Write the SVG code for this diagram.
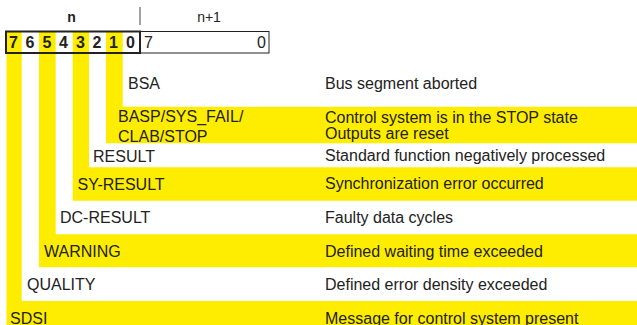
<svg xmlns="http://www.w3.org/2000/svg" width="637" height="325" viewBox="0 0 637 325">
<style>
.y{fill:#FFED00}
.t{font-family:"Liberation Sans",Arial,sans-serif;font-size:16px;fill:#222}
.d{font-family:"Liberation Sans",Arial,sans-serif;font-size:16px;font-weight:bold;fill:#222;text-anchor:middle}
.h{font-family:"Liberation Sans",Arial,sans-serif;font-size:14px;fill:#222;text-anchor:middle}
</style>
<rect width="637" height="325" fill="#fff"/>
<g id="bit7-SDSI">
<path class="y" d="M6.5,31 H21.7 V301 H637 V325 H6.5 Z"/>
<text class="t" x="10" y="323.5">SDSI</text>
<text class="t" x="325" y="323.5">Message for control system present</text>
</g>
<g id="bit6-QUALITY">
<text class="t" x="27" y="290">QUALITY</text>
<text class="t" x="325" y="290">Defined error density exceeded</text>
</g>
<g id="bit5-WARNING">
<path class="y" d="M39,31 H55.7 V234.3 H637 V267.3 H39 Z"/>
<text class="t" x="44" y="256.5">WARNING</text>
<text class="t" x="325" y="256.5">Defined waiting time exceeded</text>
</g>
<g id="bit4-DC-RESULT">
<text class="t" x="60" y="223">DC-RESULT</text>
<text class="t" x="325" y="223">Faulty data cycles</text>
</g>
<g id="bit3-SY-RESULT">
<path class="y" d="M72.7,31 H89 V167.3 H637 V200.7 H72.7 Z"/>
<text class="t" x="77.5" y="189.5">SY-RESULT</text>
<text class="t" x="325" y="189">Synchronization error occurred</text>
</g>
<g id="bit2-RESULT">
<text class="t" x="93" y="162">RESULT</text>
<text class="t" x="325" y="160.5">Standard function negatively processed</text>
</g>
<g id="bit1-BASP">
<path class="y" d="M106,31 H122.7 V106.7 H637 V143.3 H106 Z"/>
<text class="t" x="118" y="121.5">BASP/SYS_FAIL/</text>
<text class="t" x="118" y="141.5">CLAB/STOP</text>
<text class="t" x="325" y="122.5">Control system is in the STOP state</text>
<text class="t" x="325" y="138.5">Outputs are reset</text>
</g>
<g id="bit0-BSA">
<text class="t" x="128" y="89">BSA</text>
<text class="t" x="325" y="89">Bus segment aborted</text>
</g>
<g id="byte-n">
<text class="h" x="71.5" y="21.5" font-weight="bold">n</text>
<line x1="140" y1="7" x2="140" y2="25" stroke="#444" stroke-width="1"/>
<text class="d" x="13.5" y="48">7</text>
<text class="d" x="30" y="48">6</text>
<text class="d" x="47" y="48">5</text>
<text class="d" x="63.5" y="48">4</text>
<text class="d" x="80.5" y="48">3</text>
<text class="d" x="97" y="48">2</text>
<text class="d" x="113.5" y="48">1</text>
<text class="d" x="130.5" y="48">0</text>
<rect x="6" y="31.5" width="134" height="21.5" fill="none" stroke="#222" stroke-width="2"/>
</g>
<g id="byte-n1">
<text class="h" x="209" y="21.5">n+1</text>
<rect x="140" y="31.5" width="129" height="21.5" fill="none" stroke="#222" stroke-width="1"/>
<text class="t" x="144" y="48">7</text>
<text class="t" x="266" y="48" text-anchor="end">0</text>
</g>
<g id="connectors"/>
</svg>
